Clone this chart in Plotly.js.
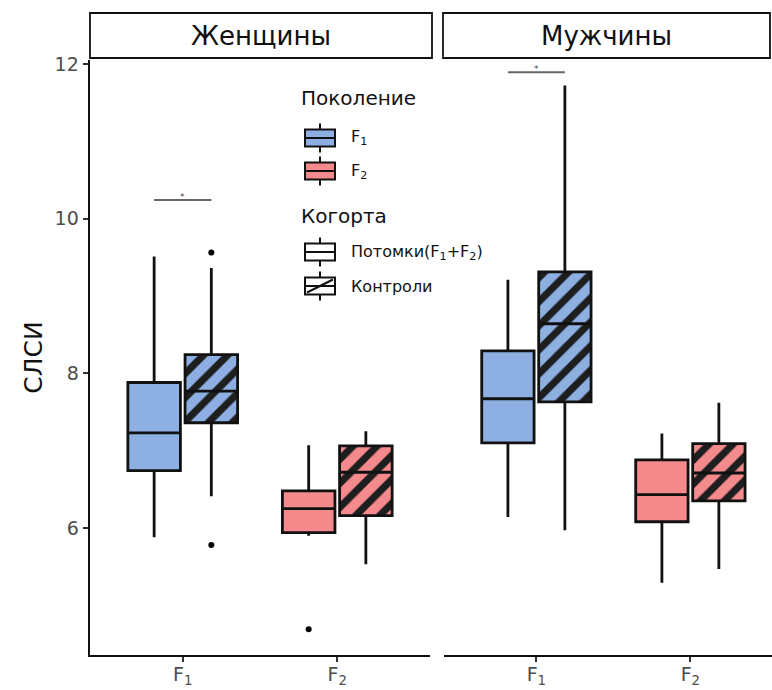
<!DOCTYPE html>
<html>
<head>
<meta charset="utf-8">
<script src="https://cdn.plot.ly/plotly-3.0.1.min.js"></script>
<style>html,body{margin:0;padding:0;background:#fff;}#chart{width:772px;height:690px;}</style>
</head>
<body>
<div id="chart"></div>
<script>
// ---------------- data ----------------
const panels = ['Женщины', 'Мужчины'];
const generations = ['F<sub>1</sub>', 'F<sub>2</sub>'];
const cohorts = ['Потомки(F<sub>1</sub>+F<sub>2</sub>)', 'Контроли'];
const legendTitleGen = 'Поколение';
const legendTitleCoh = 'Когорта';
const yTitle = 'СЛСИ';
const yTicks = [6, 8, 10, 12];

// Женщины, Потомки (index: F1, F2)
const womenDescQ1 = [6.74, 5.94];
const womenDescMed = [7.23, 6.25];
const womenDescQ3 = [7.88, 6.48];
const womenDescLo = [5.88, 5.90];
const womenDescHi = [9.51, 7.07];
// Женщины, Контроли
const womenCtrlQ1 = [7.36, 6.16];
const womenCtrlMed = [7.77, 6.72];
const womenCtrlQ3 = [8.24, 7.06];
const womenCtrlLo = [6.41, 5.53];
const womenCtrlHi = [9.36, 7.25];
// Мужчины, Потомки
const menDescQ1 = [7.10, 6.08];
const menDescMed = [7.67, 6.43];
const menDescQ3 = [8.29, 6.88];
const menDescLo = [6.14, 5.29];
const menDescHi = [9.21, 7.22];
// Мужчины, Контроли
const menCtrlQ1 = [7.63, 6.35];
const menCtrlMed = [8.64, 6.71];
const menCtrlQ3 = [9.31, 7.09];
const menCtrlLo = [5.97, 5.47];
const menCtrlHi = [11.72, 7.62];

// outliers: [panel, cohort, generation, value]
const outlierPanel = [0, 0, 0];
const outlierCohort = [0, 1, 1];
const outlierGen = [1, 0, 0];
const outlierValue = [4.69, 9.56, 5.78];

// significance brackets (F1, Потомки vs Контроли)
const sigPanel = [0, 1];
const sigGen = [0, 0];
const sigY = [10.24, 11.89];
const sigLabel = ['*', '*'];

// ---------------- styles ----------------
const genColors = ['#8DAFE2', '#F48A8C'];
const hatchColor = '#1E1E1E';
const dodge = [-0.185, 0.185];
const boxW = 0.34;
const FONT = 'DejaVu Sans, sans-serif';
const W = 772, H = 690;
const X = p => p / W;
const Y = p => 1 - p / H;

const stats = [
  [ {q1: womenDescQ1, med: womenDescMed, q3: womenDescQ3, lo: womenDescLo, hi: womenDescHi},
    {q1: womenCtrlQ1, med: womenCtrlMed, q3: womenCtrlQ3, lo: womenCtrlLo, hi: womenCtrlHi} ],
  [ {q1: menDescQ1, med: menDescMed, q3: menDescQ3, lo: menDescLo, hi: menDescHi},
    {q1: menCtrlQ1, med: menCtrlMed, q3: menCtrlQ3, lo: menCtrlLo, hi: menCtrlHi} ]
];

const traces = [];
panels.forEach((pn, p) => {
  const xa = p === 0 ? 'x' : 'x2';
  const ya = p === 0 ? 'y' : 'y2';
  cohorts.forEach((cn, c) => {
    const s = stats[p][c];
    generations.forEach((gn, g) => {
      const pos = g + dodge[c];
      if (c === 1) {
        traces.push({
          type: 'bar', xaxis: xa, yaxis: ya, showlegend: false, hoverinfo: 'skip',
          x: [pos], y: [s.q3[g] - s.q1[g]], base: [s.q1[g]], width: [boxW],
          marker: {color: genColors[g], line: {width: 0},
            pattern: {shape: '/', fgcolor: hatchColor, bgcolor: genColors[g], size: 17, solidity: 0.42}}
        });
      }
      traces.push({
        type: 'box', xaxis: xa, yaxis: ya, showlegend: false,
        x: [pos], q1: [s.q1[g]], median: [s.med[g]], q3: [s.q3[g]],
        lowerfence: [s.lo[g]], upperfence: [s.hi[g]],
        width: boxW, whiskerwidth: 0, boxpoints: false,
        fillcolor: c === 1 ? 'rgba(0,0,0,0)' : genColors[g],
        line: {color: '#111111', width: 2.8}
      });
    });
  });
});

// outliers
[0, 1].forEach(p => {
  const idx = outlierPanel.map((v, i) => v === p ? i : -1).filter(i => i >= 0);
  if (!idx.length) return;
  traces.push({
    type: 'scatter', mode: 'markers', xaxis: p === 0 ? 'x' : 'x2', yaxis: p === 0 ? 'y' : 'y2',
    showlegend: false, hoverinfo: 'skip',
    x: idx.map(i => outlierGen[i] + dodge[outlierCohort[i]]),
    y: idx.map(i => outlierValue[i]),
    marker: {color: '#000', size: 6}
  });
});

// significance brackets
const annotations = [];
sigPanel.forEach((p, i) => {
  const xa = p === 0 ? 'x' : 'x2';
  const ya = p === 0 ? 'y' : 'y2';
  traces.push({
    type: 'scatter', mode: 'lines', xaxis: xa, yaxis: ya, showlegend: false, hoverinfo: 'skip',
    x: [sigGen[i] + dodge[0], sigGen[i] + dodge[1]], y: [sigY[i], sigY[i]],
    line: {color: '#666666', width: 2}
  });
  annotations.push({
    xref: xa, yref: ya, x: sigGen[i], y: sigY[i], text: sigLabel[i], showarrow: false,
    yanchor: 'bottom', yshift: -4, font: {family: FONT, size: 9, color: '#444'}
  });
});

// strips
const shapes = [];
const stripX = [[90, 432], [443, 770]];
panels.forEach((pn, p) => {
  shapes.push({type: 'rect', xref: 'paper', yref: 'paper',
    x0: X(stripX[p][0]), x1: X(stripX[p][1]), y0: Y(58), y1: Y(13),
    line: {color: '#111', width: 1.8}, fillcolor: '#fff'});
  annotations.push({xref: 'paper', yref: 'paper', x: X((stripX[p][0] + stripX[p][1]) / 2), y: Y(36),
    text: pn, showarrow: false, xanchor: 'center', yanchor: 'middle',
    font: {family: FONT, size: 26, color: '#111'}});
});

// legend (drawn as shapes + text)
function glyph(cx, cy, fill, hatched) {
  const w = 30, h = 17, x0 = cx - w / 2, x1 = cx + w / 2, y0 = cy - h / 2, y1 = cy + h / 2;
  shapes.push({type: 'line', xref: 'paper', yref: 'paper', x0: X(cx), x1: X(cx), y0: Y(y0 - 6), y1: Y(y1 + 6), line: {color: '#111', width: 2}});
  shapes.push({type: 'rect', xref: 'paper', yref: 'paper', x0: X(x0), x1: X(x1), y0: Y(y1), y1: Y(y0), fillcolor: fill, line: {color: '#111', width: 2}});
  if (hatched) {
    shapes.push({type: 'line', xref: 'paper', yref: 'paper', x0: X(x0 + 2), x1: X(x1 - 2), y0: Y(y1 - 2), y1: Y(y0 + 2), line: {color: '#111', width: 2}});
  }
  shapes.push({type: 'line', xref: 'paper', yref: 'paper', x0: X(x0), x1: X(x1), y0: Y(cy), y1: Y(cy), line: {color: '#111', width: 2}});
}
const legX = 299, glyphX = 320, legTextX = 349;
annotations.push({xref: 'paper', yref: 'paper', x: X(legX), y: Y(98), text: legendTitleGen, showarrow: false,
  xanchor: 'left', yanchor: 'middle', font: {family: FONT, size: 20, color: '#111'}});
const genLegY = [138, 171];
generations.forEach((gn, g) => {
  glyph(glyphX, genLegY[g], genColors[g], false);
  annotations.push({xref: 'paper', yref: 'paper', x: X(legTextX), y: Y(genLegY[g]), text: gn, showarrow: false,
    xanchor: 'left', yanchor: 'middle', font: {family: FONT, size: 16, color: '#111'}});
});
annotations.push({xref: 'paper', yref: 'paper', x: X(legX), y: Y(216), text: legendTitleCoh, showarrow: false,
  xanchor: 'left', yanchor: 'middle', font: {family: FONT, size: 20, color: '#111'}});
const cohLegY = [252, 286];
cohorts.forEach((cn, c) => {
  glyph(glyphX, cohLegY[c], '#ffffff', c === 1);
  annotations.push({xref: 'paper', yref: 'paper', x: X(legTextX), y: Y(cohLegY[c]), text: cn, showarrow: false,
    xanchor: 'left', yanchor: 'middle', font: {family: FONT, size: 16, color: '#111'}});
});

const xCommon = {
  tickmode: 'array', tickvals: [0, 1], ticktext: generations,
  showline: true, linecolor: '#111', linewidth: 2.4, ticks: 'outside', ticklen: 5, tickwidth: 2, tickcolor: '#333',
  ticklabelstandoff: -4,
  showgrid: false, zeroline: false, tickfont: {family: FONT, size: 19, color: '#4D4D4D'}, fixedrange: true
};
const yCommon = {
  range: [4.357, 12.05], showgrid: false, zeroline: false, fixedrange: true
};

const layout = {
  width: W, height: H, margin: {l: 0, r: 0, t: 0, b: 0},
  paper_bgcolor: '#fff', plot_bgcolor: '#fff', showlegend: false,
  barmode: 'overlay', boxmode: 'overlay',
  xaxis: Object.assign({}, xCommon, {domain: [X(90), X(430)], range: [-0.6, 1.6], anchor: 'y'}),
  xaxis2: Object.assign({}, xCommon, {domain: [X(444), 1], range: [-0.6, 1.53], anchor: 'y2'}),
  yaxis: Object.assign({}, yCommon, {domain: [1 - 655 / H, 1 - 60 / H], anchor: 'x',
    showline: true, linecolor: '#111', linewidth: 2.4, ticks: 'outside', ticklen: 5, tickwidth: 2, tickcolor: '#333',
    tickmode: 'array', tickvals: yTicks, tickfont: {family: FONT, size: 19, color: '#4D4D4D'},
    title: {text: yTitle, font: {family: FONT, size: 25, color: '#111'}, standoff: 5}}),
  yaxis2: Object.assign({}, yCommon, {domain: [1 - 655 / H, 1 - 60 / H], anchor: 'x2', matches: 'y',
    showline: false, showticklabels: false, ticks: ''}),
  shapes: shapes, annotations: annotations
};

Plotly.newPlot('chart', traces, layout, {staticPlot: true, displayModeBar: false});
</script>
</body>
</html>
